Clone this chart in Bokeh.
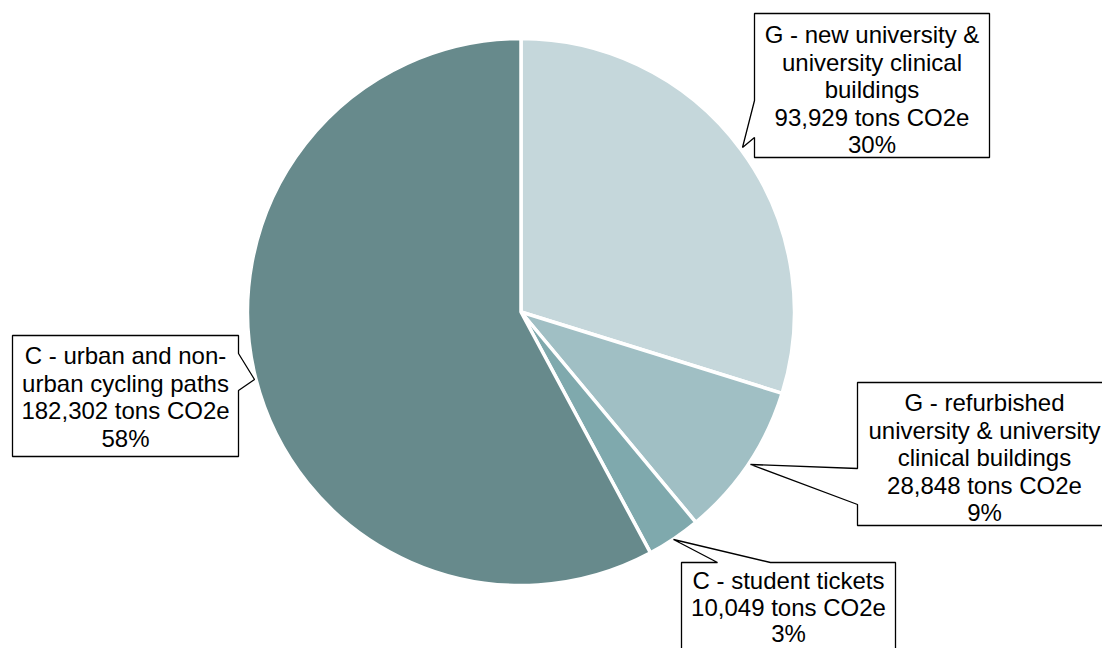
import math
from bokeh.plotting import figure
from bokeh.models import Range1d
from bokeh.core.properties import value
from bokeh.embed import file_html
from bokeh.resources import INLINE

# ---- data ----
categories = [
    "G - new university &\nuniversity clinical\nbuildings",
    "G - refurbished\nuniversity & university\nclinical buildings",
    "C - student tickets",
    "C - urban and non-\nurban cycling paths",
]
emissions = [93929, 28848, 10049, 182302]
colors = ["#c5d7db", "#a0bfc4", "#7fa9ad", "#678a8c"]

W, H = 1102, 648
# data coords == page pixel coords (y flipped: data_y = H - page_y)
def Y(py):
    return H - py

p = figure(width=W, height=H, output_backend="svg", toolbar_location=None,
           x_range=Range1d(0, W), y_range=Range1d(0, H),
           min_border=0, outline_line_color=None)
p.axis.visible = False
p.grid.visible = False
p.background_fill_color = "white"
p.border_fill_color = "white"

cx, cy, r = 520.5, Y(311.5), 273.5
total = sum(emissions)
cum = 0.0
for v, c in zip(emissions, colors):
    a0 = 90 - (cum + v) / total * 360
    a1 = 90 - cum / total * 360
    p.wedge(x=cx, y=cy, radius=r, start_angle=math.radians(a0), end_angle=math.radians(a1),
            fill_color=c, line_color="white", line_width=3.5)
    cum += v

# callout boxes: (left, top, right, bottom) in page px, and tail points
boxes = [
    dict(box=(754, 13, 989, 157), side="left", tail=[(754, 100), (742, 147), (754, 137)], cx=871.5, ty=34, lh=27.5),
    dict(box=(857, 382, 1111, 525), side="left", tail=[(857, 468), (750, 464), (857, 504)], cx=984, ty=402, lh=27.5),
    dict(box=(681, 562, 895, 700), side="top", tail=[(717, 562), (673, 539), (770, 562)], cx=788, ty=580, lh=26.5),
    dict(box=(12, 335, 238, 456), side="right", tail=[(238, 353), (254, 379), (238, 390)], cx=125, ty=355, lh=27.5),
]

for b, cat, v in zip(boxes, categories, emissions):
    l, t, rr, bt = b["box"]
    tp = b["tail"]
    if b["side"] == "left":
        pts = [(l, t), (rr, t), (rr, bt), (l, bt), tp[2], tp[1], tp[0]]
    elif b["side"] == "right":
        pts = [(l, t), (rr, t), tp[0], tp[1], tp[2], (rr, bt), (l, bt)]
    else:  # top
        pts = [(l, t), tp[0], tp[1], tp[2], (rr, t), (rr, bt), (l, bt)]
    p.patch([q[0] for q in pts], [Y(q[1]) for q in pts], fill_color="white",
            line_color="black", line_width=1.3)
    pct = round(v / total * 100)
    lines = cat.split("\n") + [f"{v:,} tons CO2e", f"{pct}%"]
    ys = [Y(b["ty"] + i * b["lh"]) for i in range(len(lines))]
    p.text(x=[b["cx"]] * len(lines), y=ys, text=lines, text_align="center",
           text_baseline="middle", text_font=value("Liberation Sans"),
           text_font_size="24px", text_color="black")

open("out.html", "w").write(file_html(p, INLINE))
